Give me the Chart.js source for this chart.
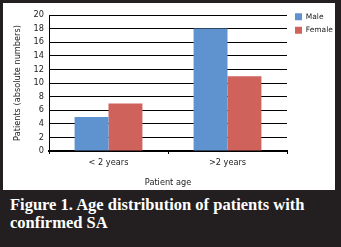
<!DOCTYPE html>
<html><head><meta charset="utf-8">
<script src="https://cdn.jsdelivr.net/npm/chart.js@4/dist/chart.umd.min.js"></script>
<style>
html,body{margin:0;padding:0;background:#231f20;width:341px;height:247px;overflow:hidden}
#panel{position:absolute;left:3px;top:3px;width:332px;height:187px;background:#fff}
#c{position:absolute;left:0;top:0}
#cap{position:absolute;left:10px;top:196px;color:#fff;font-family:"Liberation Serif",serif;font-weight:bold;font-size:16.5px;line-height:17.5px;white-space:nowrap}
</style></head><body>
<div id="panel"><canvas id="c" width="332" height="187"></canvas></div>
<div id="cap">Figure 1. Age distribution of patients with<br>confirmed SA</div>
<script>
const categories = ["< 2 years", ">2 years"];
const maleValues = [5, 18];
const femaleValues = [7, 11];
const yTicks = [0,2,4,6,8,10,12,14,16,18,20];
const font = {family:"DejaVu Sans", size:8.2};
const legendFont = {family:"DejaVu Sans", size:7.5};
const legendTweak = {id:'legendTweak', afterLayout(chart){
  const l = chart.legend; if(!l) return;
  l.left += 2; l.right += 2; l.top -= 8; l.bottom -= 8;
}};
const chart = new Chart(document.getElementById('c'), {
  type:'bar',
  data:{labels:categories, datasets:[
    {label:'Male', data:maleValues, backgroundColor:'#5f93cf', borderWidth:0},
    {label:'Female', data:femaleValues, backgroundColor:'#d0625c', borderWidth:0}
  ]},
  plugins:[legendTweak],
  options:{
    responsive:false, animation:false, devicePixelRatio:1,
    layout:{padding:{top:12,left:0,right:0,bottom:0}},
    datasets:{bar:{categoryPercentage:0.57, barPercentage:1}},
    plugins:{
      legend:{position:'right', align:'start', labels:{boxWidth:7, boxHeight:7, padding:6, color:'#222', font:legendFont}},
      tooltip:{enabled:false}
    },
    scales:{
      x:{grid:{display:true, drawOnChartArea:false, color:'#000', tickLength:3, offset:true},
         border:{color:'#000', width:2},
         afterFit:(s)=>{s.height=39;},
         ticks:{color:'#222', font:font, padding:4},
         title:{display:true, text:'Patient age', color:'#222', font:font, padding:{top:4,bottom:2}}},
      y:{min:0, max:20, afterBuildTicks:(s)=>{s.ticks=yTicks.map(v=>({value:v}));},
         afterFit:(s)=>{s.width=46;},
         grid:{color:'#000', lineWidth:1, drawTicks:false},
         border:{color:'#000', width:1},
         ticks:{color:'#222', font:font, padding:5},
         title:{display:true, text:'Patients (absolute numbers)', color:'#222', font:font, padding:{top:10,bottom:4}}}
    }
  }
});
const L = chart.legend;
const origFit = L.fit.bind(L);
L.fit = function(){ origFit(); this.width = 48; };
chart.update();
</script>
</body></html>
